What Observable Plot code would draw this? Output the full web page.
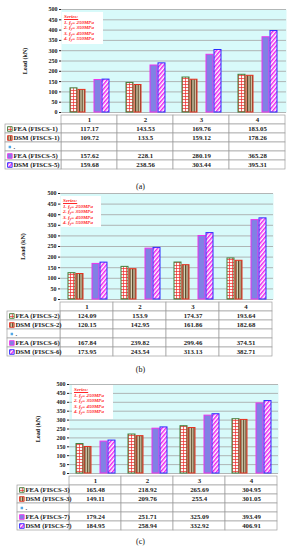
<!DOCTYPE html>
<html><head><meta charset="utf-8">
<script src="https://cdn.jsdelivr.net/npm/d3@7"></script>
<script src="https://cdn.jsdelivr.net/npm/@observablehq/plot@0.6"></script>
<style>
body{margin:0;background:#fff;width:295px;height:550px;position:relative;overflow:hidden;font-family:"Liberation Serif",serif;}
.abs{position:absolute;left:0;}
.abs svg{display:block;overflow:visible;}
.legend{position:absolute;background:#fff;color:#ff2626;font-style:italic;font-weight:bold;font-size:5px;line-height:5.6px;padding:2px 0 0 2px;box-sizing:border-box;white-space:nowrap;}
.legend u{display:block;}
.legend sub{font-size:3.6px;vertical-align:-1px;line-height:0;}
.cap{position:absolute;left:0;width:281px;text-align:center;font-size:8px;color:#111;line-height:8px;}
</style></head><body>
<svg width="0" height="0" style="position:absolute">
<defs>
<pattern id="pGrid" patternUnits="userSpaceOnUse" width="3" height="3"><rect width="3" height="3" fill="#fff6f6"/><path d="M0 0.4H3M0.4 0V3" stroke="#ee2b2b" stroke-width="0.8"/></pattern>
<pattern id="pVert" patternUnits="userSpaceOnUse" width="2.6" height="3"><rect width="2.6" height="3" fill="#ddd4b6"/><rect width="1.3" height="3" fill="#5a4526"/></pattern>
<pattern id="pDiag" patternUnits="userSpaceOnUse" width="3" height="3" patternTransform="rotate(40)"><rect width="3" height="3" fill="#fff"/><rect width="1.5" height="3" fill="#ee22ee"/></pattern>
</defs></svg>
<div id="root"></div>
<script>
// ---- data ----
const categories = ["1", "2", "3", "4"];
const yTicks = [0, 50, 100, 150, 200, 250, 300, 350, 400, 450, 500];
const legendLines = ["1. f", "2. f", "3. f", "4. f"];
const legendValues = ["250MPa", "350MPa", "450MPa", "550MPa"];

const labelsA = ["FEA (FISCS-1)", "DSM (FISCS-1)", ".", "FEA (FISCS-5)", "DSM (FISCS-5)"];
const feaA1 = [117.17, 143.53, 169.76, 183.05];
const dsmA1 = [109.72, 133.5, 159.12, 178.26];
const feaA5 = [157.62, 228.1, 280.19, 365.28];
const dsmA5 = [159.68, 238.56, 303.44, 395.31];

const labelsB = ["FEA (FISCS-2)", "DSM (FISCS-2)", ".", "FEA (FISCS-6)", "DSM (FISCS-6)"];
const feaB2 = [124.09, 153.9, 174.37, 193.64];
const dsmB2 = [120.15, 142.95, 161.86, 182.68];
const feaB6 = [167.84, 239.82, 299.46, 374.51];
const dsmB6 = [173.95, 243.54, 313.13, 382.71];

const labelsC = ["FEA (FISCS-3)", "DSM (FISCS-3)", ".", "FEA (FISCS-7)", "DSM (FISCS-7)"];
const feaC3 = [165.48, 218.92, 265.69, 304.95];
const dsmC3 = [149.11, 209.76, 255.4, 301.05];
const feaC7 = [179.24, 251.71, 325.09, 393.49];
const dsmC7 = [184.95, 258.94, 332.92, 406.91];

// ---- styles ----
const seriesKeys = ["s0", "s1", "s2", "s3", "s4"];
const seriesStyle = [
  {fill: "url(#pGrid)", stroke: "#3f7f3a", r: 2.6},
  {fill: "url(#pVert)", stroke: "#e8301e", r: 2.6},
  {fill: "#52a8e6", stroke: "none", r: 1.4},
  {fill: "#8181e4", stroke: "#ee33ee", r: 2.6},
  {fill: "url(#pDiag)", stroke: "#2a2aff", r: 2.6}
];

const panels = [
  {labels: labelsA, values: [feaA1, dsmA1, null, feaA5, dsmA5], top: 0, svgH: 113, mL: 61, mR: 9, titleX: 20, tableH: 60, cap: "(a)", capY: 183, leg: {dx: 1, top: 12, w: 41, h: 32}},
  {labels: labelsB, values: [feaB2, dsmB2, null, feaB6, dsmB6], top: 184, svgH: 116, mL: 60, mR: 22, titleX: 18, tableH: 60, cap: "(b)", capY: 366, leg: {dx: 1, top: 196, w: 40, h: 31}},
  {labels: labelsC, values: [feaC3, dsmC3, null, feaC7, dsmC7], top: 375, svgH: 99, mL: 69, mR: 17, titleX: 33, tableH: 60, cap: "(c)", capY: 538, leg: {dx: 3, top: 385, w: 41, h: 34}}
];

const root = document.getElementById("root");
const font = "Liberation Serif, Times New Roman, serif";

function place(node, top) {
  const d = document.createElement("div");
  d.className = "abs";
  d.style.top = top + "px";
  d.appendChild(node);
  root.appendChild(d);
}

panels.forEach(p => {
  const common = {
    width: 295, height: p.svgH,
    marginTop: 9, marginBottom: 1, marginLeft: p.mL, marginRight: p.mR,
    style: {fontFamily: font, fontWeight: "bold", fontSize: "6px", background: "transparent", color: "#222"}
  };
  // background layer: plot area, gridlines and the y axis
  const back = Plot.plot({
    ...common,
    x: {domain: categories, padding: 0, axis: null},
    y: {domain: [0, 500], ticks: yTicks, label: "Load (kN)", labelArrow: false, labelAnchor: "center", labelOffset: p.mL - p.titleX - 2.5, tickSize: 2, tickPadding: 2},
    marks: [
      Plot.frame({fill: "#d8fafa", stroke: "none"}),
      Plot.ruleY(yTicks, {stroke: "#a3a3a3", strokeWidth: 0.8})
    ]
  });
  place(back, p.top);

  // bars, grouped by category with one facet per category
  const rows = [];
  categories.forEach((c, i) => p.values.forEach((vals, j) => {
    if (vals) rows.push({cat: c, key: seriesKeys[j], value: vals[i], fill: seriesStyle[j].fill, stroke: seriesStyle[j].stroke});
  }));
  const bar = Plot.plot({
    ...common,
    facet: {data: rows, x: "cat"},
    fx: {domain: categories, padding: 0, axis: null, label: null},
    x: {domain: seriesKeys, paddingInner: 0.12, paddingOuter: 0.7, axis: null},
    y: {domain: [0, 500], axis: null},
    color: {type: "identity"},
    marks: [
      Plot.barY(rows, {x: "key", y: "value", fill: "fill", stroke: "stroke", strokeWidth: 1})
    ]
  });
  place(bar, p.top);

  // data table
  const w = (295 - p.mL - p.mR) / categories.length;
  const rowKeys = ["hdr", ...seriesKeys];
  const cells = [];
  categories.forEach(c => cells.push({row: "hdr", col: c, text: c}));
  seriesKeys.forEach((k, j) => {
    categories.forEach((c, i) => cells.push({row: k, col: c, text: p.values[j] ? String(p.values[j][i]) : ""}));
  });
  const labCells = seriesKeys.map((k, j) => ({row: k, col: "lab", text: p.labels[j], fill: seriesStyle[j].fill, stroke: seriesStyle[j].stroke, r: seriesStyle[j].r}));
  const table = Plot.plot({
    width: 295, height: p.tableH,
    marginTop: 0, marginBottom: 1, marginLeft: p.mL - w, marginRight: p.mR,
    style: {fontFamily: font, fontWeight: "bold", fontSize: "6.8px", background: "transparent", color: "#222"},
    x: {domain: ["lab", ...categories], padding: 0, axis: null},
    y: {domain: rowKeys, padding: 0, axis: null},
    color: {type: "identity"},
    r: {type: "identity"},
    marks: [
      Plot.cell([...cells, ...labCells], {x: "col", y: "row", fill: "white", stroke: "#9e9e9e", strokeWidth: 0.7}),
      Plot.text(cells, {x: "col", y: "row", text: "text", fill: "#222"}),
      Plot.text(labCells, {x: "col", y: "row", text: "text", textAnchor: "start", dx: -w / 2 + 8, fill: "#222"}),
      Plot.dot(labCells, {x: "col", y: "row", symbol: "square", r: "r", fill: "fill", stroke: "stroke", strokeWidth: 0.9, dx: -w / 2 + 4.5})
    ]
  });
  place(table, p.top + p.svgH - 1);

  // series note box
  const lg = document.createElement("div");
  lg.className = "legend";
  lg.style.left = (p.mL + p.leg.dx) + "px";
  lg.style.top = p.leg.top + "px";
  lg.style.width = p.leg.w + "px";
  lg.style.height = p.leg.h + "px";
  let html = "<u>Series:</u>";
  legendLines.forEach((t, i) => { html += `<div>${t}<sub>y</sub>= ${legendValues[i]}</div>`; });
  lg.innerHTML = html;
  root.appendChild(lg);

  const cap = document.createElement("div");
  cap.className = "cap";
  cap.style.top = p.capY + "px";
  cap.textContent = p.cap;
  root.appendChild(cap);
});
</script>
</body></html>
